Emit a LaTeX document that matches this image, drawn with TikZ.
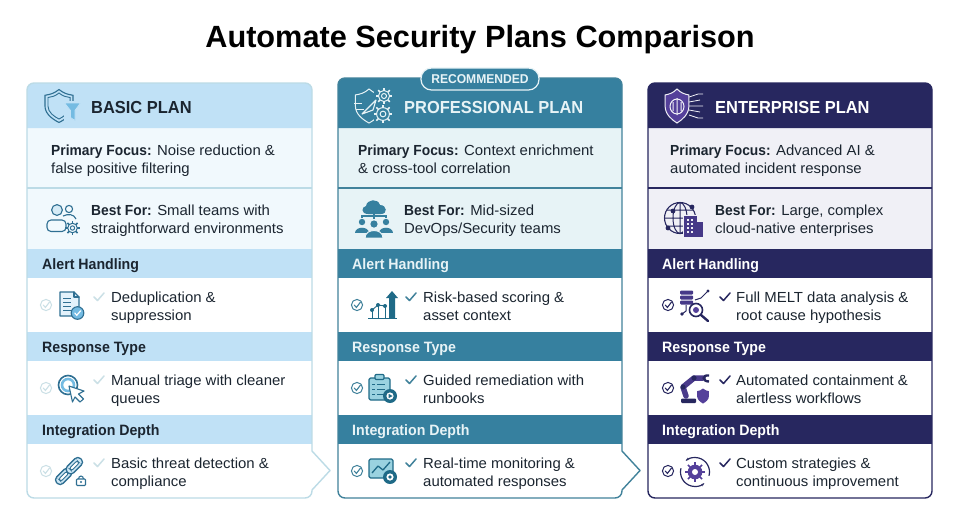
\documentclass[tikz,border=0pt]{standalone}
\usepackage{fontspec}
\usetikzlibrary{arrows.meta}
\setmainfont{Liberation Sans}[FakeStretch=1.022,BoldFeatures={FakeStretch=0.945}]
\newfontfamily\titlefont{Liberation Sans}
\definecolor{ink}{HTML}{1B2530}
\definecolor{bHead}{HTML}{C0E1F6}
\definecolor{bTint}{HTML}{F1F9FD}
\definecolor{bEdge}{HTML}{BCDBE6}
\definecolor{bIcon}{HTML}{2F6F92}
\definecolor{bSky}{HTML}{74BBE2}
\definecolor{bFaint}{HTML}{CBE0E6}
\definecolor{pHead}{HTML}{36809F}
\definecolor{pTint}{HTML}{E7F3F6}
\definecolor{pEdge}{HTML}{41829B}
\definecolor{pDark}{HTML}{1F6A87}
\definecolor{pSky}{HTML}{9AD2E0}
\definecolor{eHead}{HTML}{27275F}
\definecolor{eTint}{HTML}{F0F0F6}
\definecolor{ePur}{HTML}{54409A}
\tikzset{
  titletext/.style={anchor=base,inner sep=0,font=\titlefont\bfseries\fontsize{30.7}{34}\selectfont,text=black},
  headtext/.style={anchor=base west,inner sep=0,font=\bfseries\fontsize{17.4}{20}\selectfont},
  bodytext/.style={anchor=base west,inner sep=0,align=left,text=ink,font=\fontsize{14.6}{17.6}\selectfont},
  sectext/.style={anchor=base west,inner sep=0,font=\bfseries\fontsize{15}{17}\selectfont},
  badge/.style={rounded corners=10.5,fill=pHead,draw=#1,line width=1.2,minimum width=118,minimum height=22,inner sep=0,text=pTint,font=\bfseries\fontsize{12.8}{14}\selectfont},
  icl/.style={line width=1.1,line cap=round,line join=round},
}
% panel: name, left, right, top, header colour, tint, edge, arrow(0/1)
\newcommand\panel[8]{%
  \path[fill=white] (#2,320) {[rounded corners=7] -- (#2,#4) -- (#3,#4) -- (#3,440)} -- (#3,451) -- (#3+18,470.5) -- (#3,490) {[rounded corners=7] -- (#3,498) -- (#2,498) -- (#2,400)} -- cycle;
  \fill[#6] (#2,128) rectangle (#3,249);
  \fill[#5] (#2,128) {[rounded corners=7] -- (#2,#4) -- (#3,#4) -- (#3,120)} -- (#3,128) -- cycle;
  \draw[#7,line width=1.2] (#2,188) -- (#3,188);
  \foreach \yy in {249,332,415} {\fill[#5] (#2,\yy) rectangle (#3,\yy+29);}
  \ifnum#8=1
    \draw[#7,line width=1.4,line join=round] (#2,320) {[rounded corners=7] -- (#2,#4) -- (#3,#4) -- (#3,440)} -- (#3,451) -- (#3+18,470.5) -- (#3,490) {[rounded corners=7] -- (#3,498) -- (#2,498) -- (#2,400)} -- cycle;
  \else
    \draw[#7,line width=1.4,rounded corners=7] (#2,#4) rectangle (#3,498);
  \fi
}
\newcommand\tick[3]{\draw[#3,line width=1.5,line cap=round,line join=round] (#1-5,#2) -- (#1-1.5,#2+3.5) -- (#1+5,#2-4);}
\newcommand\ringtick[3]{\draw[#3,line width=1] (#1,#2) circle (5.6);
  \draw[#3,line width=1.1,line cap=round] (#1-2.8,#2) -- (#1-0.6,#2+2.4) -- (#1+3.4,#2-2.8);}
\newcommand\gearo[5]{%
  \foreach \a in {0,45,...,315} {\draw[#4,line width=1.5] (#1,#2) ++(\a:#3*0.8) -- ++(\a:#3*0.38);}
  \draw[#4,line width=1,fill=#5] (#1,#2) circle (#3*0.8);
  \draw[#4,line width=1] (#1,#2) circle (#3*0.36);}
\newcommand\shieldpath{(0,-1) .. controls (0.3,-0.75) and (0.55,-0.7) .. (0.85,-0.65) -- (0.85,0) .. controls (0.85,0.5) and (0.35,0.82) .. (0,1) .. controls (-0.35,0.82) and (-0.85,0.5) .. (-0.85,0) -- (-0.85,-0.65) .. controls (-0.55,-0.7) and (-0.3,-0.75) .. (0,-1) -- cycle}
\begin{document}
\begin{tikzpicture}[x=1pt,y=-1pt]
\useasboundingbox (0,0) rectangle (960,523);
\fill[white] (0,0) rectangle (960,523);
\node[titletext] (title) at (480,47) {Automate Security Plans Comparison};

\panel{a}{27}{312}{83}{bHead}{bTint}{bEdge}{1}
\panel{b}{338}{622}{78}{pHead}{pTint}{pEdge}{1}
\panel{c}{648}{932}{83}{eHead}{eTint}{eHead}{0}

\node[badge=pTint] (rec) at (480,79) {RECOMMENDED};

% ---- headers
\node[headtext,text=ink] (aHead) at (91,113) {BASIC PLAN};
\node[headtext,text=pTint] (bHeadT) at (404,113) {PROFESSIONAL PLAN};
\node[headtext,text=white] (cHeadT) at (715,113) {ENTERPRISE PLAN};

% ---- focus / best for
\node[bodytext] (aFocus) at (51,173) {\textbf{Primary Focus:} Noise reduction \&\\false positive filtering};
\node[bodytext] (bFocus) at (358,173) {\textbf{Primary Focus:} Context enrichment\\\& cross-tool correlation};
\node[bodytext] (cFocus) at (670,173) {\textbf{Primary Focus:} Advanced AI \&\\automated incident response};
\node[bodytext] (aBest) at (91,233) {\textbf{Best For:} Small teams with\\straightforward environments};
\node[bodytext] (bBest) at (404,233) {\textbf{Best For:} Mid-sized\\DevOps/Security teams};
\node[bodytext] (cBest) at (715,233) {\textbf{Best For:} Large, complex\\cloud-native enterprises};

% ---- section bars
\foreach \nm/\ty/\tt in {A/269/Alert Handling,B/352/Response Type,C/435/Integration Depth}{
  \node[sectext,text=ink] (aSec\nm) at (42,\ty) {\tt};
  \node[sectext,text=pTint] (bSec\nm) at (352,\ty) {\tt};
  \node[sectext,text=white] (cSec\nm) at (662,\ty) {\tt};
}

% ---- row text
\node[bodytext] (aR1) at (111,320) {Deduplication \&\\suppression};
\node[bodytext] (aR2) at (111,403) {Manual triage with cleaner\\queues};
\node[bodytext] (aR3) at (111,486) {Basic threat detection \&\\compliance};
\node[bodytext] (bR1) at (423,320) {Risk-based scoring \&\\asset context};
\node[bodytext] (bR2) at (423,403) {Guided remediation with\\runbooks};
\node[bodytext] (bR3) at (423,486) {Real-time monitoring \&\\automated responses};
\node[bodytext] (cR1) at (736,320) {Full MELT data analysis \&\\root cause hypothesis};
\node[bodytext] (cR2) at (736,403) {Automated containment \&\\alertless workflows};
\node[bodytext] (cR3) at (736,486) {Custom strategies \&\\continuous improvement};

% ---- ticks
\foreach \yy in {0,83,166}{
  \ringtick{46}{305+\yy}{bFaint}\tick{99}{297+\yy}{bFaint}
  \ringtick{357}{305+\yy}{pEdge}\tick{411}{297+\yy}{pEdge}
  \ringtick{668}{305+\yy}{eHead}\tick{725}{297+\yy}{eHead}
}

% ---- basic header icon
\begin{scope}[shift={(59,106)},x=16.5pt,y=-16.5pt]
  \draw[bIcon,line width=1.1] \shieldpath;
\end{scope}
\begin{scope}[shift={(59,106)},x=13pt,y=-13pt]
  \draw[bIcon,line width=0.9] \shieldpath;
\end{scope}
\fill[bHead] (64,101) rectangle (82,122);
\path[fill=bSky,draw=bHead,line width=.8] (64.5,103) -- (80.5,103) -- (75,110.5) -- (75,120.5) -- (70.5,117.5) -- (70.5,110.5) -- cycle;
% users + gear
\draw[bIcon,line width=1.1,fill=bTint] (69,209) circle (3.6);
\draw[bIcon,line width=1.1] (63,216) .. controls (68,213.5) and (74,214) .. (76,219);
\draw[bIcon,line width=1.1,fill=bSky!30] (57,210) circle (5.4);
\draw[bIcon,line width=1.1,fill=bTint,rounded corners=4] (47,231.5) -- (47,220) -- (66,220) -- (66,231.5) -- cycle;
\gearo{72.5}{228}{6}{bIcon}{bTint}

% doc
\draw[icl,bIcon,fill=bHead!45] (60,292) -- (74,292) -- (79,297) -- (79,316) -- (60,316) -- cycle;
\draw[icl,bIcon] (74,292) -- (74,297) -- (79,297);
\foreach \ly in {298,302,306,310}{\draw[bIcon,line width=1] (63,\ly) -- (71,\ly);}
\draw[bIcon,line width=1.1,fill=bSky] (77.5,313) circle (6.3);
\draw[white,line width=1.2,line cap=round] (74.7,313) -- (76.8,315.2) -- (80.6,310.8);
% target cursor
\draw[bIcon,line width=1.6] (68,385) circle (9.5);
\draw[bSky,line width=2.6] (68,385) circle (6);
\draw[icl,bIcon,fill=white] (69,386) -- (84,391) -- (78.5,394) -- (83.5,399) -- (80,402) -- (75,397) -- (72.5,402) -- cycle;
% chain + lock
\begin{scope}[shift={(69,471)},rotate=45]
  \draw[bIcon,line width=1.3,fill=bSky!35,rounded corners=4] (-17,-4.5) rectangle (2,4.5);
  \draw[bIcon,line width=1,fill=white,rounded corners=2] (-13,-1.6) rectangle (-2,1.6);
  \draw[bIcon,line width=1.3,fill=bSky!35,rounded corners=4] (-2,-4.5) rectangle (17,4.5);
  \draw[bIcon,line width=1,fill=white,rounded corners=2] (2,-1.6) rectangle (13,1.6);
\end{scope}
\draw[bIcon,line width=1.1] (78.5,479) arc (180:360:2.5 and 3);
\draw[bIcon,line width=1.1,fill=white,rounded corners=.8] (76.5,479) rectangle (85.5,485.5);
\fill[bIcon] (81,482) circle (1.1);

% ---- professional header icon
\begin{scope}[shift={(369,106)},x=16pt,y=-17pt]
  \draw[pTint,line width=1] \shieldpath;
\end{scope}
\fill[pHead] (374,90) rectangle (392,122);
\draw[pTint,line width=.9] (354,103) -- (362,103) (356,109) -- (364,109);
\draw[pTint,line width=1.1,line join=round] (362,114) -- (376,100) -- (373,110) -- cycle;
\gearo{384}{96}{7}{pTint}{pHead}
\gearo{383}{114}{8}{pTint}{pHead}
% cloud people
\fill[pHead] (368,214) .. controls (361,214) and (361,207) .. (366,206) .. controls (367,199) and (378,198) .. (380,205) .. controls (387,205) and (388,214) .. (381,214) -- cycle;
\draw[pHead,line width=1.1] (374,214) -- (374,219) (362,218) -- (362,216) -- (386,216) -- (386,218);
\foreach \px/\py in {362/222,386/222}{
  \fill[pHead] (\px,\py) circle (3.2);
  \fill[pHead] (\px-7,\py+11) .. controls (\px-7,\py+4) and (\px+7,\py+4) .. (\px+7,\py+11) -- cycle;
}
\fill[pHead] (374,224) circle (3.6);
\draw[pTint,line width=1,fill=pHead] (365,238) .. controls (365,228) and (383,228) .. (383,238) -- cycle;
% chart
\draw[pDark,line width=1.2] (368,318.5) -- (397,318.5);
\path[fill=pDark] (392,291) -- (398,298) -- (395,298) -- (395,318) -- (389,318) -- (389,298) -- (386,298) -- cycle;
\foreach \dx/\dy in {372/310,378/305,385/306}{
  \draw[pDark,line width=1] (\dx,\dy) -- (\dx,318);
  \fill[pDark] (\dx,\dy) circle (2);
}
\draw[pDark,line width=.9] (372,310) -- (378,305) -- (385,306);
% clipboard
\draw[icl,pDark,fill=pSky,rounded corners=1.5] (369,378) rectangle (390,400);
\draw[icl,pDark,fill=pSky,rounded corners=1] (375,374.5) rectangle (384,379.5);
\foreach \ly in {384,389,394}{\draw[pDark,line width=.9] (372,\ly) -- (375,\ly) (377,\ly) -- (385,\ly);}
\fill[pDark] (390,396) circle (7);
\fill[white] (390,396) circle (3.6);
\fill[pDark] (388.6,393.8) -- (392.6,396) -- (388.6,398.2) -- cycle;
% monitor
\draw[icl,pDark,fill=pSky,rounded corners=1.5] (369,459) rectangle (393,478);
\draw[pDark,line width=1.3,line join=round] (372,473) -- (378,466) -- (383,470) -- (390,462);
\fill[pDark] (390,477) circle (7);
\fill[white] (390,477) circle (3.6);
\fill[pDark] (390,477) circle (1.8);

% ---- enterprise header icon
\begin{scope}[shift={(677,106)},x=14pt,y=-17pt]
  \draw[eTint,line width=1,fill=ePur] \shieldpath;
\end{scope}
\draw[eTint,line width=1] (677,98) -- (677,115) (677,106.5) ellipse (7 and 7.5) (673,102) -- (673,111) (681,102) -- (681,111);
\draw[eTint,line width=.8] (689,97) -- (698,94) -- (703,94) (689,102) -- (700,100) (689,106) -- (703,106) (689,110) -- (700,112) (689,115) -- (698,118) -- (703,118);
% globe + building
\draw[eHead,line width=1.1] (680,218) circle (15.5);
\draw[eHead,line width=1] (680,218) ellipse (7 and 15.5) (680,202.5) -- (680,233.5) (665,218) -- (695,218) (667,210) -- (693,210) (667,226) -- (693,226);
\foreach \gx/\gy in {673/211,692/207,668/228}{\fill[eHead] (\gx,\gy) circle (2.4);}
\fill[eTint] (683,215) rectangle (704,238);
\fill[ePur!70!eHead] (684,216) rectangle (697,237);
\fill[ePur!70!eHead] (697,222) rectangle (703,237);
\foreach \bx in {687,691}{\foreach \by in {219,223,227,231}{\fill[eTint] (\bx,\by) rectangle +(2,2);}}
% data
\foreach \dy in {290.5,295.5,300.5}{\fill[ePur!70!eHead,rounded corners=1] (680,\dy) rectangle (693,\dy+4);}
\draw[eHead,line width=1] (686,305) -- (686,311) -- (682,314) (695,300) -- (701,298) -- (708,291);
\fill[eHead] (682,314) circle (1.8) (708,291) circle (1.6);
\draw[eHead,line width=1.6,fill=white] (696,310) circle (6.5);
\fill[ePur] (696,310) circle (3);
\draw[eHead,line width=2.4,line cap=round] (701,315) -- (708,321);
% robot
\fill[eHead,rounded corners=1] (681,398.5) rectangle (696,403);
\draw[ePur!75!eHead,line width=5.5,line cap=round,line join=round] (686,396) -- (683,387) -- (694,378) -- (703,378);
\fill[eHead] (683,387) circle (2.6) (694,378) circle (2.6);
\draw[eHead,line width=2.4] (709,375.5) .. controls (702,374.5) and (702,381.5) .. (709,381.5);
\begin{scope}[shift={(703,396)},x=7pt,y=-7.5pt]
  \fill[ePur] \shieldpath;
\end{scope}
% gear cycle
\gearo{695}{472}{8.5}{ePur}{ePur}
\fill[white] (695,472) circle (3);
\draw[eHead,line width=1.2,-{Stealth[length=3.5pt]}] (695,472) ++(195:14.5) arc (195:50:14.5);
\draw[eHead,line width=1.2,-{Stealth[length=3.5pt]}] (695,472) ++(15:14.5) arc (15:-130:14.5);
\end{tikzpicture}
\end{document}
